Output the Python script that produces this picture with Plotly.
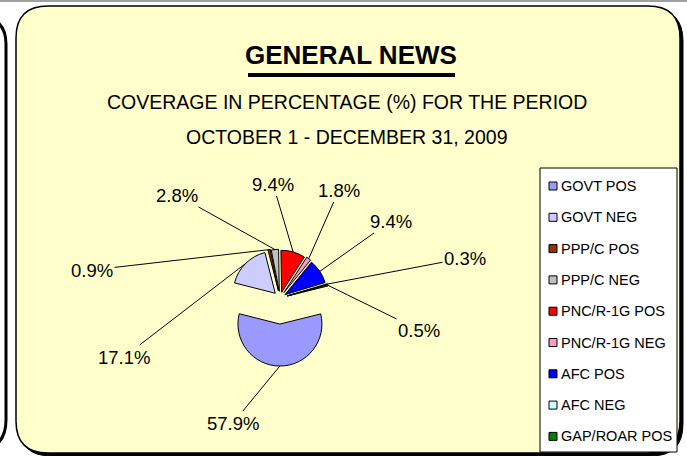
import math
import plotly.graph_objects as go

# ---------------- data ----------------
labels = ["GOVT POS", "GOVT NEG", "PPP/C POS", "PPP/C NEG", "PNC/R-1G POS",
          "PNC/R-1G NEG", "AFC POS", "AFC NEG", "GAP/ROAR POS"]
values = [57.9, 17.1, 0.9, 2.8, 9.4, 1.8, 9.4, 0.3, 0.5]
colors = ["#9999FF", "#CCCCFF", "#993300", "#C0C0C0", "#FF0000",
          "#FF99CC", "#0000FF", "#CCFFFF", "#008000"]
title = "GENERAL NEWS"
subtitle1 = "COVERAGE IN PERCENTAGE (%) FOR THE PERIOD"
subtitle2 = "OCTOBER 1 - DECEMBER 31, 2009"

# ---------------- layout constants (pixels) ----------------
W, H = 687, 456
PIE_CX, PIE_CY, PIE_R = 280, 298, 42
PULLS = [0.62, 0.16, 0.18, 0.16, 0.14, 0.16, 0.14, 0.18, 0.18]
ROTATION = 76
LABEL_XY = [(233, 423), (124, 357), (92, 270), (177, 195), (273, 184),
            (339, 190), (391, 221), (465, 258), (419, 330)]
FONT = "Liberation Sans Narrow, Arial Narrow, Liberation Sans, Arial, sans-serif"
BG = "#FFFFCC"


def X(px):
    return px / W


def Y(py):
    return 1 - py / H


def rr_path(x0, y0, x1, y1, r):
    pts = [
        ("M", (x0 + r, y0)), ("L", (x1 - r, y0)), ("Q", (x1, y0), (x1, y0 + r)),
        ("L", (x1, y1 - r)), ("Q", (x1, y1), (x1 - r, y1)), ("L", (x0 + r, y1)),
        ("Q", (x0, y1), (x0, y1 - r)), ("L", (x0, y0 + r)), ("Q", (x0, y0), (x0 + r, y0)),
    ]
    s = ""
    for cmd, *ps in pts:
        s += cmd + " " + " ".join(f"{X(a):.5f},{Y(b):.5f}" for a, b in ps) + " "
    return s + "Z"


fig = go.Figure()

box = PIE_R * (2 + 2 * max(PULLS))
fig.add_trace(go.Pie(
    labels=labels, values=values, sort=False, direction="clockwise",
    rotation=ROTATION, pull=PULLS, textinfo="none", hoverinfo="label+percent",
    marker=dict(colors=colors, line=dict(color="black", width=1)),
    domain=dict(x=[X(PIE_CX - box / 2), X(PIE_CX + box / 2)],
                y=[Y(PIE_CY + box / 2), Y(PIE_CY - box / 2)]),
    showlegend=False,
))

shapes = []
# spreadsheet grid line at the top
shapes.append(dict(type="line", xref="paper", yref="paper", x0=0, x1=1, y0=Y(1), y1=Y(1),
                   line=dict(color="#A0A0A0", width=2)))
# neighbouring panel at the left edge
left_path = (f"M {X(-30)},{Y(14)} Q {X(6)},{Y(14)} {X(6)},{Y(44)} "
             f"L {X(6)},{Y(420)} Q {X(6)},{Y(452)} {X(-30)},{Y(452)}")
shapes.append(dict(type="path", xref="paper", yref="paper", path=left_path,
                   line=dict(color="black", width=3)))
# main panel shadow + panel
shapes.append(dict(type="path", xref="paper", yref="paper",
                   path=rr_path(19, 9, 683, 456, 32), fillcolor="black",
                   line=dict(color="black", width=1), layer="below"))
shapes.append(dict(type="path", xref="paper", yref="paper",
                   path=rr_path(16, 6, 680, 453, 32), fillcolor=BG,
                   line=dict(color="black", width=1.5), layer="below"))
# title underline
shapes.append(dict(type="line", xref="paper", yref="paper", x0=X(248), x1=X(455),
                   y0=Y(75), y1=Y(75), line=dict(color="black", width=4)))
# legend box
LX0, LY0, LX1, LY1 = 540, 168, 677, 452
shapes.append(dict(type="rect", xref="paper", yref="paper", x0=X(LX0), x1=X(LX1),
                   y0=Y(LY1), y1=Y(LY0), fillcolor="white",
                   line=dict(color="black", width=1)))

annotations = [
    dict(text="<b>" + title + "</b>", x=X(351), y=Y(55), font=dict(family=FONT, size=26, color="black")),
    dict(text=subtitle1, x=X(347), y=Y(102), font=dict(family=FONT, size=19.5, color="black")),
    dict(text=subtitle2, x=X(347), y=Y(137), font=dict(family=FONT, size=19.5, color="black")),
]
for a in annotations:
    a.update(xref="paper", yref="paper", showarrow=False, xanchor="center", yanchor="middle")

# legend entries
ROW0, ROW_STEP = 186, 31.3
for i, (lab, col) in enumerate(zip(labels, colors)):
    ry = ROW0 + i * ROW_STEP
    shapes.append(dict(type="rect", xref="paper", yref="paper", x0=X(549), x1=X(557),
                       y0=Y(ry + 4), y1=Y(ry - 4), fillcolor=col,
                       line=dict(color="black", width=1)))
    annotations.append(dict(text=lab, xref="paper", yref="paper", x=X(559), y=Y(ry),
                            xanchor="left", yanchor="middle", showarrow=False,
                            font=dict(family=FONT, size=14.5, color="black")))

# data labels with leader lines
total = sum(values)
cum = 0
for i, v in enumerate(values):
    mid = math.radians(ROTATION + (cum + v / 2) * 360 / total)
    cum += v
    d = PIE_R * (1 + PULLS[i])
    axp = PIE_CX + d * math.sin(mid)
    ayp = PIE_CY - d * math.cos(mid)
    tx, ty = LABEL_XY[i]
    annotations.append(dict(
        text=f"{v:.1f}%", xref="paper", yref="paper", x=X(axp), y=Y(ayp),
        ax=tx - axp, ay=ty - ayp, showarrow=True, arrowhead=0, arrowwidth=1,
        arrowcolor="black", standoff=0, startstandoff=0,
        font=dict(family=FONT, size=18.5, color="black")))

fig.update_layout(
    width=W, height=H, autosize=False,
    margin=dict(l=0, r=0, t=0, b=0),
    paper_bgcolor="white", plot_bgcolor="white",
    shapes=shapes, annotations=annotations,
)

fig.write_html("out.html", config={"displayModeBar": False},
               post_script="document.body.style.margin='0';document.body.style.overflow='hidden';")
